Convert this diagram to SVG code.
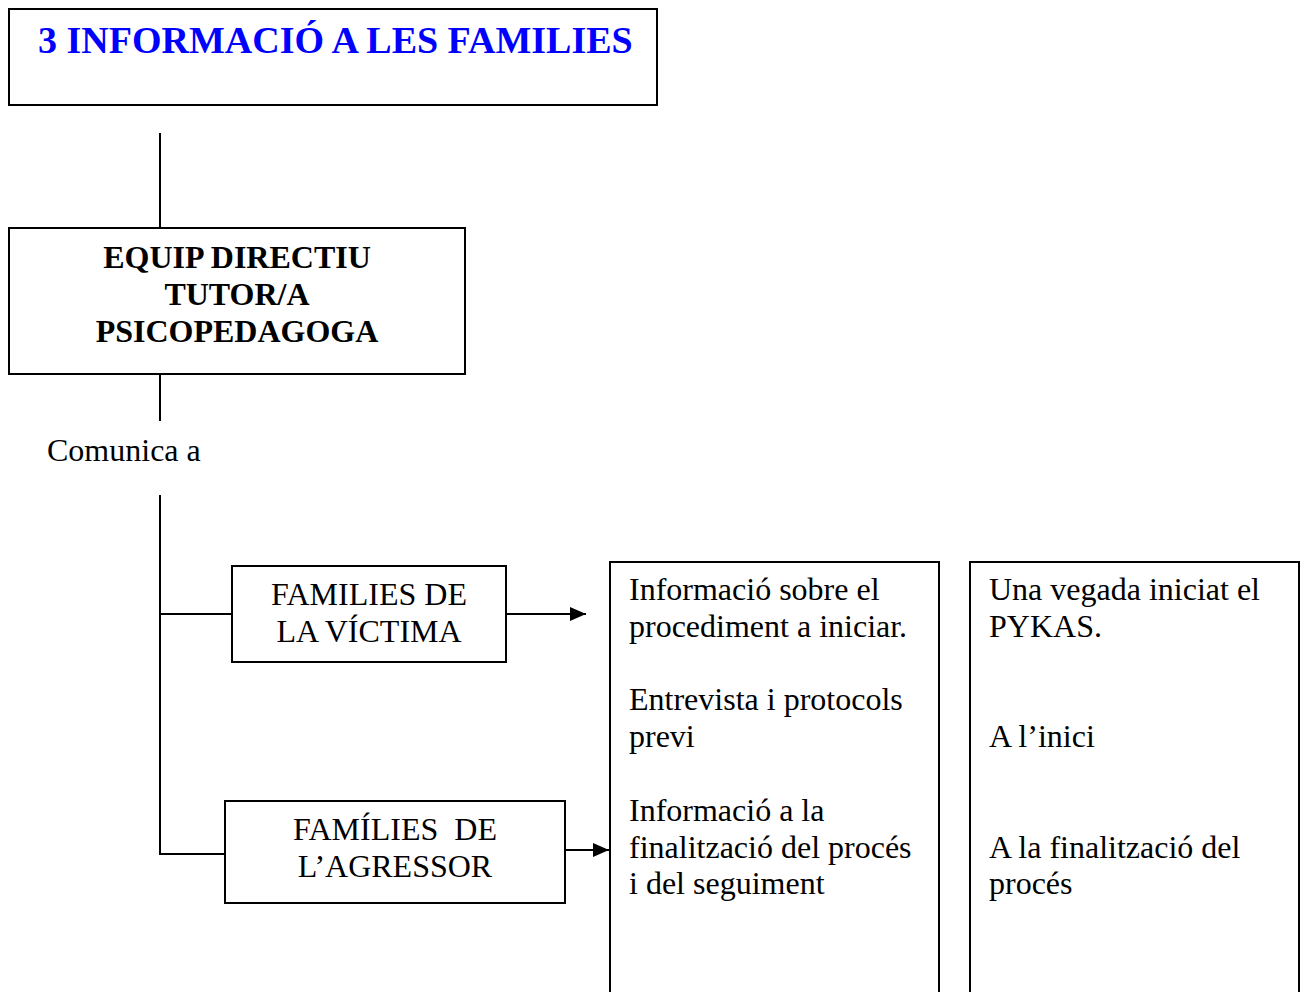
<svg xmlns="http://www.w3.org/2000/svg" width="1302" height="992" viewBox="0 0 1302 992">
<style>
.box{fill:#fff;stroke:#000;stroke-width:2}
.ln{stroke:#000;stroke-width:2;fill:none}
.t{font-family:"Liberation Serif","Times New Roman",serif;font-size:32px;fill:#000}
.b{font-weight:bold}
.c{text-anchor:middle}
</style>
<defs>
<marker id="ah" markerWidth="16" markerHeight="14" refX="16" refY="7" orient="auto" markerUnits="userSpaceOnUse">
<path d="M0,0 L16,7 L0,14 Z" fill="#000"/>
</marker>
</defs>
<rect width="1302" height="992" fill="#fff"/>
<g id="title">
<rect class="box" x="9" y="9" width="648" height="96"/>
<text class="t b" x="38" y="53" style="font-size:38px;fill:#0000ff">3 INFORMACIÓ A LES FAMILIES</text>
</g>
<g id="equip">
<rect class="box" x="9" y="228" width="456" height="146"/>
<text class="t b c" x="237" y="268">EQUIP DIRECTIU</text>
<text class="t b c" x="237" y="305">TUTOR/A</text>
<text class="t b c" x="237" y="342">PSICOPEDAGOGA</text>
</g>
<g id="comunica">
<text class="t" x="47" y="461">Comunica a</text>
</g>
<g id="victima">
<rect class="box" x="232" y="566" width="274" height="96"/>
<text class="t c" x="369" y="605">FAMILIES DE</text>
<text class="t c" x="369" y="642">LA VÍCTIMA</text>
</g>
<g id="agressor">
<rect class="box" x="225" y="801" width="340" height="102"/>
<text class="t c" x="395" y="840" style="white-space:pre">FAMÍLIES  DE</text>
<text class="t c" x="395" y="877">L’AGRESSOR</text>
</g>
<g id="info">
<path class="ln" d="M610,1000 V562 H939 V1000"/>
<text class="t" x="629" y="600">Informació sobre el</text>
<text class="t" x="629" y="637">procediment a iniciar.</text>
<text class="t" x="629" y="710">Entrevista i protocols</text>
<text class="t" x="629" y="747">previ</text>
<text class="t" x="629" y="821">Informació a la</text>
<text class="t" x="629" y="858">finalització del procés</text>
<text class="t" x="629" y="894">i del seguiment</text>
</g>
<g id="quan">
<path class="ln" d="M970,1000 V562 H1299 V1000"/>
<text class="t" x="989" y="600">Una vegada iniciat el</text>
<text class="t" x="989" y="637">PYKAS.</text>
<text class="t" x="989" y="747">A l’inici</text>
<text class="t" x="989" y="858">A la finalització del</text>
<text class="t" x="989" y="894">procés</text>
</g>
<g id="connectors">
<line class="ln" x1="160" y1="133" x2="160" y2="228"/>
<line class="ln" x1="160" y1="374" x2="160" y2="421"/>
<path class="ln" d="M160,495 V854 H225"/>
<line class="ln" x1="160" y1="614" x2="232" y2="614"/>
<line class="ln" x1="506" y1="614" x2="586" y2="614" marker-end="url(#ah)"/>
<line class="ln" x1="565" y1="850" x2="609" y2="850" marker-end="url(#ah)"/>
</g>
</svg>
